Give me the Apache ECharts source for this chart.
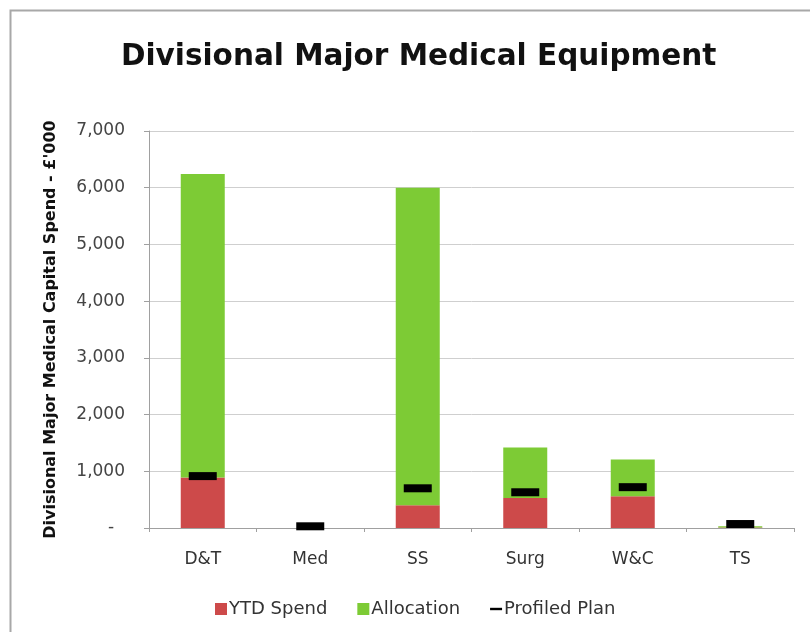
<!DOCTYPE html>
<html><head><meta charset="utf-8">
<script src="https://cdn.jsdelivr.net/npm/echarts@6/dist/echarts.min.js"></script>
<style>html,body{margin:0;padding:0;background:#fff}#c{width:810px;height:632px}</style>
</head><body><div id="c"></div>
<script>
const categories = ['D&T', 'Med', 'SS', 'Surg', 'W&C', 'TS'];
const ytdSpend = [890, 0, 400, 530, 560, 10];
const allocation = [5350, 0, 5600, 890, 650, 20];
const profiledPlan = [915, 30, 700, 630, 720, 70];

const chart = echarts.init(document.getElementById('c'), null, {renderer: 'canvas'});
const font = '"DejaVu Sans", sans-serif';
chart.setOption({
  animation: false,
  textStyle: {fontFamily: font},
  graphic: [{type: 'rect', shape: {x: 10.5, y: 10.5, width: 820, height: 640}, style: {fill: 'none', stroke: '#a8a8a8', lineWidth: 2}}],
  title: {text: 'Divisional Major Medical Equipment', left: 116, top: 37,
    textStyle: {fontSize: 29.5, fontWeight: 'bold', color: '#111', fontFamily: font}},
  legend: {top: 595, left: 210, itemGap: 30, itemWidth: 12, itemHeight: 12,
    textStyle: {fontSize: 18, color: '#333', fontFamily: font, padding: [0, 0, 0, -3]},
    data: [{name: 'YTD Spend', icon: 'rect'}, {name: 'Allocation', icon: 'rect'},
      {name: 'Profiled Plan', icon: 'path://M0,4 L10,4 L10,6 L0,6 Z'}]},
  grid: {left: 149, right: 16, top: 131, bottom: 104},
  xAxis: {type: 'category', data: categories,
    axisLine: {lineStyle: {color: '#a0a0a0'}},
    axisTick: {show: true, length: 4, lineStyle: {color: '#a0a0a0'}},
    axisLabel: {fontSize: 17, color: '#333', margin: 23, fontFamily: font}},
  yAxis: {type: 'value', min: 0, max: 7000, interval: 1000,
    name: "Divisional Major Medical Capital Spend - £'000", nameLocation: 'middle', nameGap: 90,
    nameTextStyle: {fontSize: 16, fontWeight: 'bold', color: '#111', fontFamily: font},
    axisLine: {show: true, lineStyle: {color: '#a0a0a0'}},
    axisTick: {show: true, length: 5, lineStyle: {color: '#a0a0a0'}},
    splitLine: {lineStyle: {color: '#cfcfcf'}},
    axisLabel: {fontSize: 17, color: '#444', margin: 24, fontFamily: font,
      formatter: v => v === 0 ? '-  ' : v.toLocaleString('en-US')}},
  series: [
    {name: 'YTD Spend', type: 'bar', stack: 's', data: ytdSpend, barWidth: 44,
      itemStyle: {color: '#cd4a4a'}},
    {name: 'Allocation', type: 'bar', stack: 's', data: allocation, barWidth: 44,
      itemStyle: {color: '#7dcb35'}},
    {name: 'Profiled Plan', type: 'scatter', data: profiledPlan, symbol: 'rect',
      symbolSize: [28, 8], itemStyle: {color: '#000', opacity: 1}, z: 5}
  ]
});
</script></body></html>
